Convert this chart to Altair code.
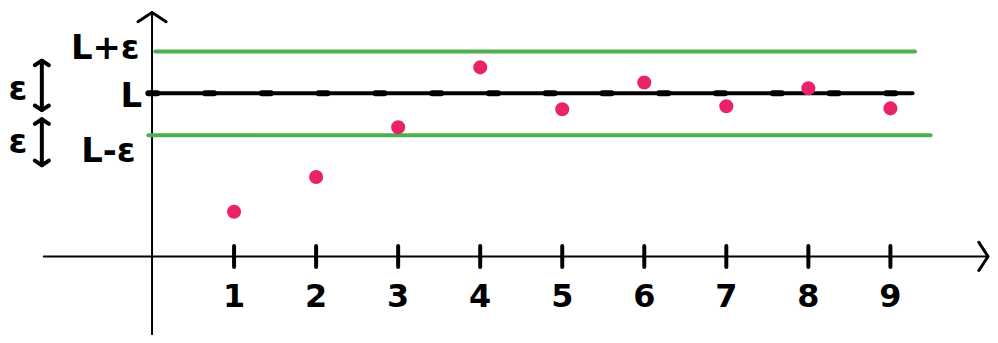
import altair as alt
import pandas as pd

# ---- data ----
n_values = [1, 2, 3, 4, 5, 6, 7, 8, 9]
a_values = [-2.83, -2.0, -0.81, 0.62, -0.38, 0.26, -0.31, 0.12, -0.36]
tick_labels = ["1", "2", "3", "4", "5", "6", "7", "8", "9"]
L = 0.0
eps = 1.0
band_names = ["L+ε", "L", "L-ε"]
band_levels = [L + eps, L, L - eps]

PINK = "#E8236A"
GREEN = "#4CAF50"
BLACK = "#000000"
FONT = "DejaVu Sans"

xs = alt.Scale(domain=[-1.707, 10.214], nice=False, zero=False)
ys = alt.Scale(domain=[-5.762, 2.024], nice=False, zero=False)


def X(f):
    return alt.X(f, type="quantitative", scale=xs, axis=None)


def Y(f):
    return alt.Y(f, type="quantitative", scale=ys, axis=None)


# axes geometry (annotation, in data space)
x_axis_y = -3.9
axes = pd.DataFrame({"x0": [-1.32, 0.0], "x1": [10.19, 0.0],
                     "y0": [x_axis_y, -5.762], "y1": [x_axis_y, 1.93]})
arrow_heads = pd.DataFrame({"x": [0.0, 10.19], "y": [1.93, x_axis_y], "ang": [0, 90]})

ticks = pd.DataFrame({"n": n_values, "label": tick_labels})
seq = pd.DataFrame({"n": n_values, "a": a_values})

lines = pd.DataFrame({
    "name": band_names,
    "y": band_levels,
    "x0": [0.04, -0.045, -0.045],
    "x1": [9.30, 9.27, 9.49],
    "col": [GREEN, BLACK, GREEN],
})

labels = pd.DataFrame({"name": band_names, "x": [-0.15, -0.12, -0.2],
                       "y": [1.07, -0.1, -1.40]})

eps_text = pd.DataFrame({"t": ["ε", "ε"], "x": [-1.634, -1.634], "y": [0.07, -1.19]})
eps_arrows = pd.DataFrame({"x": [-1.343, -1.343], "y0": [0.78, -0.62], "y1": [-0.40, -1.72]})
eps_heads = pd.DataFrame({"x": [-1.343] * 4, "y": [0.78, -0.40, -0.62, -1.72],
                          "ang": [0, 180, 0, 180]})

chev = "M -1 0.65 L 0 0 L 1 0.65"

axis_rules = alt.Chart(axes).mark_rule(color=BLACK, strokeWidth=2, strokeCap="round").encode(
    x=X("x0"), x2="x1", y=Y("y0"), y2="y1")

axis_heads = alt.Chart(arrow_heads).mark_point(
    shape=chev, filled=False, color=BLACK, strokeWidth=3, size=800, opacity=1,
    strokeCap="round", strokeJoin="round").encode(
    x=X("x"), y=Y("y"), angle=alt.Angle("ang:Q", scale=None))

tick_marks = alt.Chart(ticks).mark_rule(color=BLACK, strokeWidth=4, strokeCap="round").encode(
    x=X("n"), y=alt.Y("lo:Q", scale=ys, axis=None), y2="hi:Q").transform_calculate(
    lo=f"{x_axis_y} - 0.25", hi=f"{x_axis_y} + 0.25")

tick_text = alt.Chart(ticks).mark_text(font=FONT, fontSize=32, fontWeight="bold", color=BLACK,
                                       baseline="middle").encode(
    x=X("n"), y=alt.Y("yy:Q", scale=ys, axis=None), text="label:N").transform_calculate(yy="-4.86")

band_lines = alt.Chart(lines).mark_rule(strokeWidth=4, strokeCap="round").encode(
    x=X("x0"), x2="x1", y=Y("y"), color=alt.Color("col:N", scale=None))

dash_overlay = alt.Chart(lines[lines["name"] == "L"]).mark_rule(
    color=BLACK, strokeWidth=6, strokeDash=[9, 48], strokeCap="round").encode(
    x=X("x0"), x2="x1", y=Y("y"))

points = alt.Chart(seq).mark_point(filled=True, color=PINK, size=200, opacity=1).encode(
    x=X("n"), y=Y("a"))

band_text = alt.Chart(labels).mark_text(font=FONT, fontSize=34, fontWeight="bold", color=BLACK,
                                        align="right", baseline="middle").encode(
    x=X("x"), y=Y("y"), text="name:N")

eps_t = alt.Chart(eps_text).mark_text(font=FONT, fontSize=34, fontWeight="bold", color=BLACK,
                                      baseline="middle").encode(
    x=X("x"), y=Y("y"), text="t:N")

eps_r = alt.Chart(eps_arrows).mark_rule(color=BLACK, strokeWidth=4, strokeCap="round").encode(
    x=X("x"), y=Y("y0"), y2="y1")

eps_h = alt.Chart(eps_heads).mark_point(
    shape=chev, filled=False, color=BLACK, strokeWidth=4, size=200, opacity=1,
    strokeCap="round", strokeJoin="round").encode(
    x=X("x"), y=Y("y"), angle=alt.Angle("ang:Q", scale=None))

chart = alt.layer(
    axis_rules, axis_heads, tick_marks, tick_text, band_lines, dash_overlay,
    points, band_text, eps_t, eps_r, eps_h
).properties(width=982, height=327, padding=0, background="white").configure_view(stroke=None)

chart.save("out.html", embed_options={"renderer": "svg", "actions": False})
